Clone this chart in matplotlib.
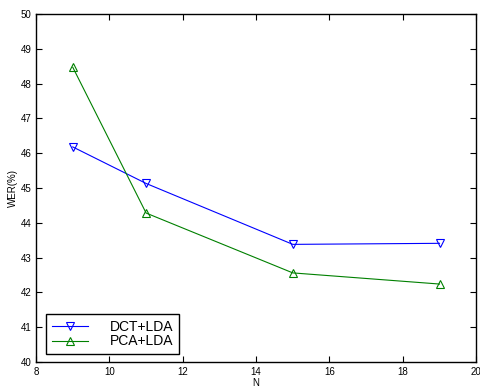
import matplotlib
matplotlib.use('Agg')
import matplotlib.pyplot as plt

n_vals = [9, 11, 15, 19]
dct_lda = [46.18, 45.13, 43.38, 43.41]
pca_lda = [48.47, 44.28, 42.56, 42.24]

plt.rcParams['font.family'] = ['Liberation Sans', 'DejaVu Sans']

fig = plt.figure(figsize=(4.81, 3.88), dpi=100)
ax = fig.add_axes([0.075, 0.067, 0.915, 0.897])

ax.plot(n_vals, dct_lda, color='blue', lw=0.8, marker='v', ms=5.5,
        mfc='none', mec='blue', mew=0.8, label='DCT+LDA')
ax.plot(n_vals, pca_lda, color='green', lw=0.8, marker='^', ms=5.5,
        mfc='none', mec='green', mew=0.8, label='PCA+LDA')

ax.set_xlim(8, 20)
ax.set_ylim(40, 50)
ax.set_xticks(range(8, 21, 2))
ax.set_yticks(range(40, 51))
ax.tick_params(direction='in', top=True, right=True, labelsize=7, length=4, width=0.8)
for s in ax.spines.values():
    s.set_linewidth(1.0)
ax.set_xlabel('N', fontsize=7, labelpad=1)
ax.set_ylabel('WER(%)', fontsize=7, labelpad=2)

leg = ax.legend(loc='lower left', fontsize=10, fancybox=False, framealpha=1,
                edgecolor='black', handlelength=2.6, borderpad=0.4,
                labelspacing=0.05, handletextpad=1.6, borderaxespad=0,
                bbox_to_anchor=(0.023, 0.023))
leg.get_frame().set_linewidth(1.0)

fig.savefig('out.png', dpi=100)
